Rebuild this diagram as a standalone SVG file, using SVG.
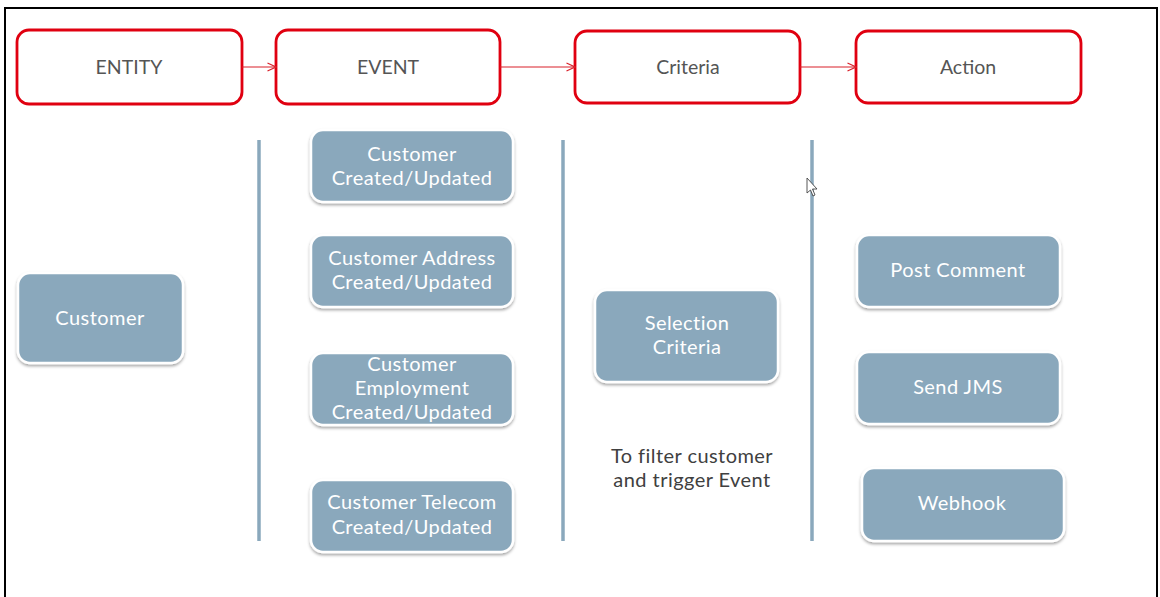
<svg xmlns="http://www.w3.org/2000/svg" width="1160" height="597" viewBox="0 0 1160 597">
  <defs>
    <style>
      .stage { fill: #ffffff; stroke: #e00010; stroke-width: 2.8; }
      .stage-text { font-family: Lato, "Open Sans", "Liberation Sans", sans-serif; font-size: 19.5px; fill: #555555; text-anchor: middle; }
      .item { fill: #8aa8bc; stroke: #ffffff; stroke-width: 2.5; filter: url(#shadow); }
      .item-text { font-family: Lato, "Open Sans", "Liberation Sans", sans-serif; font-size: 20px; letter-spacing: 0.45px; fill: #ffffff; text-anchor: middle; }
      .note { font-family: Lato, "Open Sans", "Liberation Sans", sans-serif; font-size: 20px; letter-spacing: 0.45px; fill: #404040; text-anchor: middle; }
      .divider { stroke: #8aa8bc; stroke-width: 3.5; }
      .flow { stroke: #d9202a; stroke-width: 1.2; fill: none; marker-end: url(#chev); }
    </style>
    <filter id="shadow" x="-10%" y="-10%" width="120%" height="130%">
      <feDropShadow dx="0" dy="2" stdDeviation="1.8" flood-color="#000000" flood-opacity="0.35"/>
    </filter>
    <marker id="chev" viewBox="0 0 10 10" refX="9.5" refY="5" markerWidth="10" markerHeight="10" markerUnits="userSpaceOnUse" orient="auto">
      <path d="M1,1 L9.5,5 L1,9" fill="none" stroke="#d9202a" stroke-width="1.2"/>
    </marker>
  </defs>

  <rect x="0" y="0" width="1160" height="597" fill="#ffffff"/>
  <!-- outer frame -->
  <rect x="5" y="8" width="1152" height="600" fill="none" stroke="#000000" stroke-width="2"/>

  <!-- stage headers -->
  <g id="entity">
    <rect class="stage" x="17" y="30" width="225" height="74" rx="12"/>
    <text class="stage-text" x="129" y="74">ENTITY</text>
  </g>
  <g id="event">
    <rect class="stage" x="276" y="30" width="224" height="74" rx="12"/>
    <text class="stage-text" x="388" y="74">EVENT</text>
  </g>
  <g id="criteria">
    <rect class="stage" x="575" y="31" width="225" height="72" rx="12"/>
    <text class="stage-text" x="688" y="74">Criteria</text>
  </g>
  <g id="action">
    <rect class="stage" x="856" y="31" width="225" height="72" rx="12"/>
    <text class="stage-text" x="968" y="74">Action</text>
  </g>

  <!-- connectors and column dividers -->
  <g id="connectors">
    <line class="flow" x1="242" y1="67" x2="276" y2="67"/>
    <line class="flow" x1="500" y1="67" x2="575" y2="67"/>
    <line class="flow" x1="800" y1="67" x2="856" y2="67"/>
    <line class="divider" x1="259" y1="140" x2="259" y2="541"/>
    <line class="divider" x1="563" y1="140" x2="563" y2="541"/>
    <line class="divider" x1="812" y1="140" x2="812" y2="541"/>
  </g>

  <!-- entity column -->
  <g id="customer">
    <rect class="item" x="18" y="273" width="165" height="90" rx="12"/>
    <text class="item-text" x="100" y="325">Customer</text>
  </g>

  <!-- event column -->
  <g id="ev-customer">
    <rect class="item" x="311" y="130" width="202" height="72" rx="12"/>
    <text class="item-text" x="412" y="161">Customer</text>
    <text class="item-text" x="412" y="185">Created/Updated</text>
  </g>
  <g id="ev-address">
    <rect class="item" x="311" y="235" width="202" height="72" rx="12"/>
    <text class="item-text" x="412" y="265">Customer Address</text>
    <text class="item-text" x="412" y="289">Created/Updated</text>
  </g>
  <g id="ev-employment">
    <rect class="item" x="311" y="353" width="202" height="72" rx="12"/>
    <text class="item-text" x="412" y="371">Customer</text>
    <text class="item-text" x="412" y="395">Employment</text>
    <text class="item-text" x="412" y="419">Created/Updated</text>
  </g>
  <g id="ev-telecom">
    <rect class="item" x="311" y="480" width="202" height="72" rx="12"/>
    <text class="item-text" x="412" y="509">Customer Telecom</text>
    <text class="item-text" x="412" y="534">Created/Updated</text>
  </g>

  <!-- criteria column -->
  <g id="selection">
    <rect class="item" x="595" y="290" width="183" height="92" rx="12"/>
    <text class="item-text" x="687" y="330">Selection</text>
    <text class="item-text" x="687" y="354">Criteria</text>
  </g>
  <g id="filter-note">
    <text class="note" x="692" y="463">To filter customer</text>
    <text class="note" x="692" y="487">and trigger Event</text>
  </g>

  <!-- action column -->
  <g id="post-comment">
    <rect class="item" x="857" y="235" width="203" height="72" rx="12"/>
    <text class="item-text" x="958" y="277">Post Comment</text>
  </g>
  <g id="send-jms">
    <rect class="item" x="857" y="352" width="203" height="72" rx="12"/>
    <text class="item-text" x="958" y="394">Send JMS</text>
  </g>
  <g id="webhook">
    <rect class="item" x="862" y="468" width="202" height="73" rx="12"/>
    <text class="item-text" x="962" y="510">Webhook</text>
  </g>

  <!-- pointer -->
  <path d="M807,178 L807,193 L810.5,190 L813,196 L815,195 L812.5,189 L817,189 Z" fill="#ffffff" stroke="#444444" stroke-width="0.9"/>
</svg>
